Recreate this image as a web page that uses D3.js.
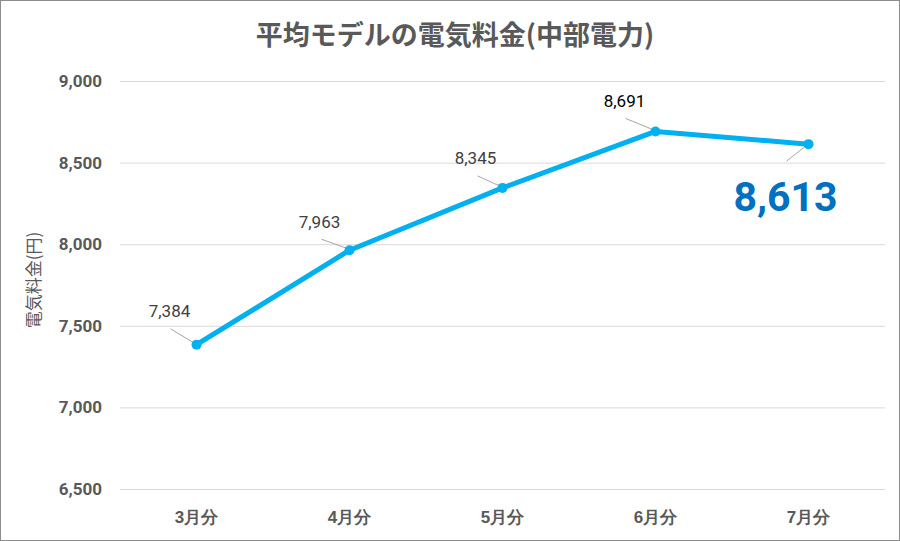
<!DOCTYPE html>
<html><head><meta charset="utf-8">
<script src="https://cdn.jsdelivr.net/npm/d3@7"></script>
<style>body{margin:0;background:#fff;}svg{display:block;font-family:"Noto Sans CJK JP","Noto Sans",sans-serif;}</style>
</head><body><svg id="c" width="900" height="541"></svg>
<script>
const categories = ["3月分","4月分","5月分","6月分","7月分"];
const values = [7384, 7963, 8345, 8691, 8613];
const yTicks = [6500, 7000, 7500, 8000, 8500, 9000];
const labelText = ["7,384","7,963","8,345","8,691","8,613"];

const svg = d3.select("#c");
svg.append("rect").attr("x",0.5).attr("y",0.5).attr("width",899).attr("height",540)
  .attr("fill","#fff").attr("stroke","#8c8c8c");

const x = d3.scaleBand().domain(categories).range([120,885]);
const y = d3.scaleLinear().domain([6500,9000]).range([489,81]);
const cx = d => x(d)+x.bandwidth()/2;

svg.append("text").attr("x",455).attr("y",45).attr("text-anchor","middle")
  .attr("font-size",27).attr("font-weight","bold").attr("fill","#595959")
  .text("平均モデルの電気料金(中部電力)");

const gy = svg.append("g").attr("transform","translate(120,0)")
  .call(d3.axisLeft(y).tickValues(yTicks).tickSize(-765).tickFormat(d3.format(",")));
gy.select(".domain").remove();
gy.selectAll(".tick line").attr("stroke","#d9d9d9").attr("stroke-width",1);
gy.selectAll(".tick text").attr("x",-18).attr("fill","#595959").attr("font-size",17)
  .attr("font-weight","bold").attr("font-family","Roboto, 'Noto Sans', sans-serif");

const gx = svg.append("g").attr("transform","translate(0,489)")
  .call(d3.axisBottom(x).tickSize(0));
gx.select(".domain").remove();
gx.selectAll(".tick text").attr("dy",0).attr("y",34).attr("fill","#595959").attr("font-size",17)
  .attr("font-weight","bold");

svg.append("text").attr("transform","translate(40,280) rotate(-90)").attr("text-anchor","middle")
  .attr("font-size",17).attr("fill","#595959").text("電気料金(円)");

const line = d3.line().x((d,i)=>cx(categories[i])).y(d=>y(d));
svg.append("path").datum(values).attr("d",line).attr("fill","none")
  .attr("stroke","#00B0F0").attr("stroke-width",5).attr("stroke-linejoin","round");

const off = [[-26,-16],[-28,-11],[-25,-12],[-30,-13],[-22,17]];
values.forEach((v,i)=>{
  const px = cx(categories[i]), py = y(v);
  svg.append("line").attr("x1",px+off[i][0]).attr("y1",py+off[i][1])
    .attr("x2",px-3).attr("y2",py+(off[i][1]>0?2:-2))
    .attr("stroke","#a6a6a6").attr("stroke-width",1);
});
svg.selectAll("circle.m").data(values).join("circle")
  .attr("cx",(d,i)=>cx(categories[i])).attr("cy",d=>y(d)).attr("r",5).attr("fill","#00B0F0");

const lpos = [[-27,-28],[-30,-22],[-27,-24],[-31,-24],[-23,67]];
values.forEach((v,i)=>{
  const px = cx(categories[i]), py = y(v);
  const big = i===4;
  svg.append("text").attr("x",px+lpos[i][0]).attr("y",py+lpos[i][1]).attr("text-anchor","middle")
    .attr("font-size",big?41:17).attr("font-weight",big?"bold":"normal")
    .attr("fill",big?"#0070C0":(i===3?"#000":"#404040"))
    .attr("font-family","Roboto, 'Noto Sans', sans-serif")
    .text(labelText[i]);
});
</script></body></html>
